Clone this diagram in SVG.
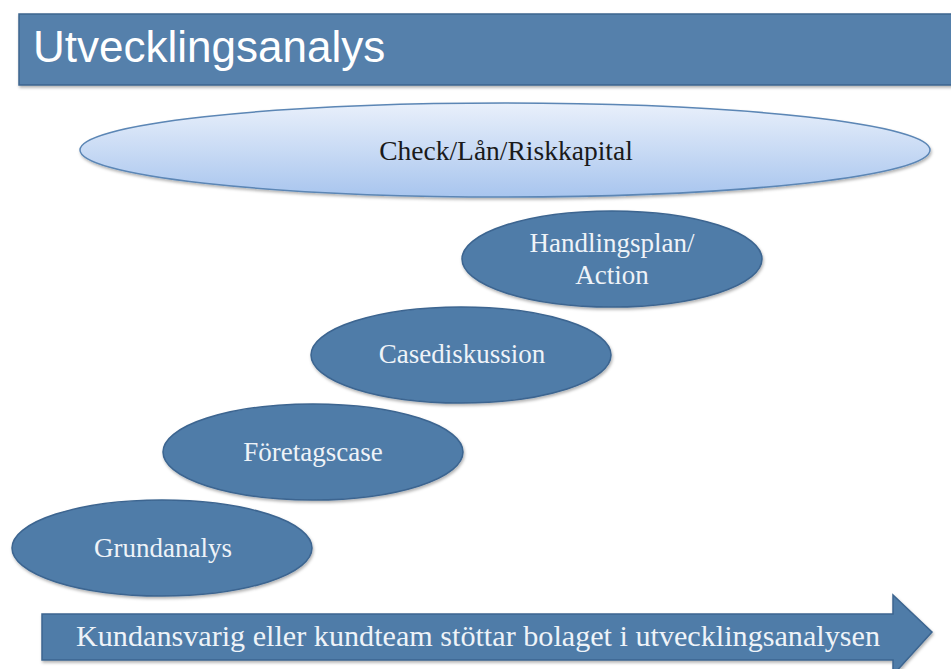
<svg xmlns="http://www.w3.org/2000/svg" width="951" height="669" viewBox="0 0 951 669">
  <defs>
    <linearGradient id="lightGrad" x1="0" y1="0" x2="0" y2="1">
      <stop offset="0" stop-color="#e9f0fb"/>
      <stop offset="1" stop-color="#a8c5ee"/>
    </linearGradient>
    <filter id="shadow" x="-10%" y="-20%" width="120%" height="150%">
      <feDropShadow dx="1" dy="2" stdDeviation="1.5" flood-color="#000" flood-opacity="0.3"/>
    </filter>
  </defs>
  <style>
    .step { fill: #4f7ba8; stroke: #3c6590; stroke-width: 1.5; filter: url(#shadow); }
    .steptext { font-family: "Liberation Serif", "Times New Roman", serif; font-size: 27px; fill: #eef3f8; text-anchor: middle; }
    .darktext { font-family: "Liberation Serif", "Times New Roman", serif; font-size: 27.5px; fill: #1a1a1a; text-anchor: middle; }
    .arrowtext { font-family: "Liberation Serif", "Times New Roman", serif; font-size: 30px; fill: #eef3f8; }
  </style>
  <rect width="951" height="669" fill="#ffffff"/>

  <g id="title">
    <rect x="19" y="14" width="940" height="71" fill="#5580ab" stroke="#3d658e" stroke-width="1.5" filter="url(#shadow)"/>
    <text x="33" y="62" font-family="Liberation Sans, Arial, sans-serif" font-size="44" fill="#ffffff">Utvecklingsanalys</text>
  </g>

  <g id="financing">
    <ellipse cx="505" cy="150" rx="425" ry="47" fill="url(#lightGrad)" stroke="#5b86b5" stroke-width="1.5" filter="url(#shadow)"/>
    <text class="darktext" x="506" y="160">Check/Lån/Riskkapital</text>
  </g>

  <g id="handlingsplan">
    <ellipse class="step" cx="612" cy="259" rx="150" ry="48"/>
    <text class="steptext" x="612" y="252">Handlingsplan/</text>
    <text class="steptext" x="612" y="284">Action</text>
  </g>

  <g id="casediskussion">
    <ellipse class="step" cx="461" cy="355" rx="150" ry="48"/>
    <text class="steptext" x="462" y="363">Casediskussion</text>
  </g>

  <g id="foretagscase">
    <ellipse class="step" cx="313" cy="452" rx="150" ry="48"/>
    <text class="steptext" x="313" y="461">Företagscase</text>
  </g>

  <g id="grundanalys">
    <ellipse class="step" cx="162" cy="548" rx="150" ry="48"/>
    <text class="steptext" x="163" y="557">Grundanalys</text>
  </g>

  <g id="connectors">
    <path d="M42,614 L893,614 L893,595 L932,632 L893,675 L893,660 L42,660 Z" fill="#4f7ba8" stroke="#3c6590" stroke-width="1.5" filter="url(#shadow)"/>
    <text class="arrowtext" x="76" y="646" textLength="804" lengthAdjust="spacingAndGlyphs">Kundansvarig eller kundteam stöttar bolaget i utvecklingsanalysen</text>
  </g>
</svg>
